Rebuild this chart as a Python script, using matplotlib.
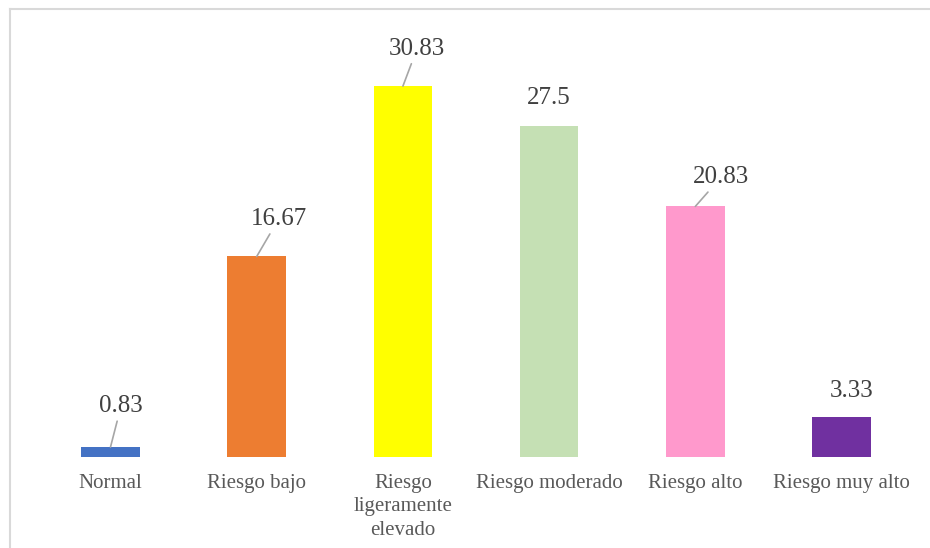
import matplotlib
matplotlib.use("Agg")
import matplotlib.pyplot as plt
from matplotlib.lines import Line2D

categories = ["Normal", "Riesgo bajo", "Riesgo\nligeramente\nelevado",
              "Riesgo moderado", "Riesgo alto", "Riesgo muy alto"]
values = [0.83, 16.67, 30.83, 27.5, 20.83, 3.33]
value_labels = ["0.83", "16.67", "30.83", "27.5", "20.83", "3.33"]
colors = ["#4472C4", "#ED7D31", "#FFFF00", "#C5E0B4", "#FF99CC", "#7030A0"]

# label offsets in points from the top of each bar, and whether a leader line is drawn
label_offsets = [(7.6, 29.5), (15.8, 27.0), (10.2, 27.0), (0, 20.0), (18.5, 21.0), (7.3, 18.5)]
leader = [True, True, True, False, True, False]

plt.rcParams["font.family"] = ["Liberation Serif", "DejaVu Serif"]

W, H = 930, 548
fig = plt.figure(figsize=(W / 100, H / 100), dpi=100)
ax = fig.add_axes([37.4 / W, (H - 457) / H, (914.6 - 37.4) / W, 421 / H])

x = list(range(len(categories)))
bars = ax.bar(x, values, width=0.40, color=colors, zorder=2)

ax.set_xlim(-0.5, len(categories) - 0.5)
ax.set_ylim(0, 35)
ax.set_yticks([])
ax.set_xticks(x)
ax.set_xticklabels(categories, fontsize=15, color="#595959", linespacing=1.32)
ax.tick_params(axis="x", length=0, pad=12)
for s in ax.spines.values():
    s.set_visible(False)

for xi, v, lab, off, ln in zip(x, values, value_labels, label_offsets, leader):
    arrow = dict(arrowstyle="-", color="#A6A6A6", lw=1.2, shrinkA=1, shrinkB=0) if ln else None
    ax.annotate(lab, xy=(xi, v), xytext=off, textcoords="offset points",
                ha="center", va="center", fontsize=18, color="#404040",
                arrowprops=arrow)

# chart area border (top and left edges)
fig.add_artist(Line2D([9.5 / W, 1.0], [1 - 8.5 / H, 1 - 8.5 / H],
                      transform=fig.transFigure, color="#D9D9D9", lw=1.5))
fig.add_artist(Line2D([9.5 / W, 9.5 / W], [0.0, 1 - 8.5 / H],
                      transform=fig.transFigure, color="#D9D9D9", lw=1.5))

fig.savefig("out.png", dpi=100)
